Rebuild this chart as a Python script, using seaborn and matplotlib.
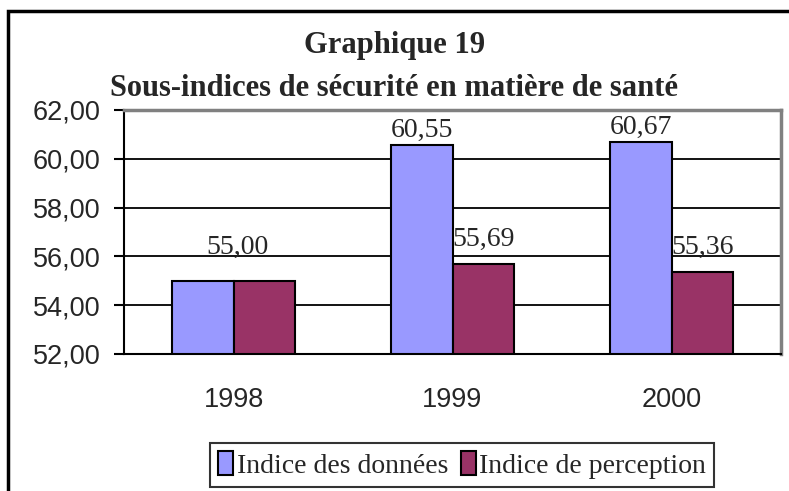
"""
Graphique 19 - Sous-indices de sécurité en matière de santé
"""
import matplotlib

matplotlib.use("Agg")
import matplotlib.pyplot as plt
from matplotlib.patches import Rectangle
import pandas as pd
import seaborn as sns

# data
years = ["1998", "1999", "2000"]
indice_donnees = [55.00, 60.55, 60.67]
indice_perception = [55.00, 55.69, 55.36]
series_names = ["Indice des données", "Indice de perception"]
y_ticks = [52, 54, 56, 58, 60, 62]

df = pd.DataFrame(
    {
        "annee": years * 2,
        "valeur": indice_donnees + indice_perception,
        "serie": [series_names[0]] * len(years) + [series_names[1]] * len(years),
    }
)


def fr(v):
    return f"{v:.2f}".replace(".", ",")


if __name__ == "__main__":
    sns.set_style("white")
    plt.rcParams["font.family"] = ["Liberation Sans", "DejaVu Sans"]
    serif = ["Liberation Serif", "DejaVu Serif"]

    fig = plt.figure(figsize=(7.89, 4.91), dpi=100)
    ax = fig.add_axes([124 / 789, 1 - 354 / 491, (781 - 124) / 789, (354 - 110) / 491])

    sns.barplot(
        data=df,
        x="annee",
        y="valeur",
        hue="serie",
        palette=["#9999FF", "#993366"],
        width=0.566,
        edgecolor="black",
        linewidth=1.5,
        saturation=1,
        ax=ax,
        legend=True,
    )

    ax.set_ylim(52, 62)
    ax.set_xlim(-0.5, 2.5)
    ax.set_yticks(y_ticks)
    ax.set_yticklabels([fr(t) for t in y_ticks], fontsize=19.5)
    ax.set_xticks(range(len(years)))
    ax.set_xticklabels(years, fontsize=19.5)
    ax.set_xticks([-0.5, 0.5, 1.5, 2.5], minor=True)
    ax.tick_params(axis="x", which="major", length=0, pad=24)
    ax.tick_params(axis="x", which="minor", length=7, width=1.5, direction="out", color="black")
    ax.tick_params(axis="y", length=7, width=1.5, direction="out", color="black", pad=10, left=True)
    ax.set_xlabel("")
    ax.set_ylabel("")

    # horizontal gridlines
    ax.yaxis.grid(True, color="black", linewidth=1.3)
    ax.set_axisbelow(True)

    for side in ["left", "bottom"]:
        ax.spines[side].set_color("black")
        ax.spines[side].set_linewidth(1.5)
    for side in ["top", "right"]:
        ax.spines[side].set_color("#808080")
        ax.spines[side].set_linewidth(2.5)

    # data labels
    c_don, c_per = ax.containers[0], ax.containers[1]
    ax.bar_label(
        c_don,
        labels=["" if a == b else fr(a) for a, b in zip(indice_donnees, indice_perception)],
        padding=2,
        fontsize=20,
        family=serif,
    )
    ax.bar_label(
        c_per,
        labels=["" if a == b else fr(b) for a, b in zip(indice_donnees, indice_perception)],
        padding=9,
        fontsize=20,
        family=serif,
    )
    for i, (a, b) in enumerate(zip(indice_donnees, indice_perception)):
        if a == b:
            ax.annotate(
                fr(a),
                (i, a),
                xytext=(3, 15),
                textcoords="offset points",
                ha="center",
                va="bottom",
                fontsize=20,
                family=serif,
            )

    # titles
    fig.text(0.5, 1 - 45 / 491, "Graphique 19", ha="center", va="center",
             fontsize=22, fontweight="bold", family=serif)
    fig.text(0.5, 1 - 88 / 491, "Sous-indices de sécurité en matière de santé",
             ha="center", va="center", fontsize=22, fontweight="bold", family=serif)

    # legend
    handles, labels = ax.get_legend_handles_labels()
    ax.legend_.remove()
    leg = fig.legend(
        handles,
        labels,
        loc="center",
        bbox_to_anchor=(462 / 789, 1 - 465 / 491),
        ncol=2,
        frameon=True,
        fancybox=False,
        shadow=False,
        prop={"family": serif, "size": 20},
        handlelength=0.55,
        handleheight=0.9,
        handletextpad=0.12,
        columnspacing=0.45,
        borderpad=0.3,
        borderaxespad=0,
    )
    leg.get_frame().set_edgecolor("black")
    leg.get_frame().set_linewidth(1.5)

    # outer chart frame (left and top visible)
    fig.patches.append(
        Rectangle((8 / 789, -0.1), 1.2, 1.1 - 11 / 491, transform=fig.transFigure,
                  fill=False, edgecolor="black", linewidth=2.5)
    )

    plt.savefig("out.png", dpi=100)
